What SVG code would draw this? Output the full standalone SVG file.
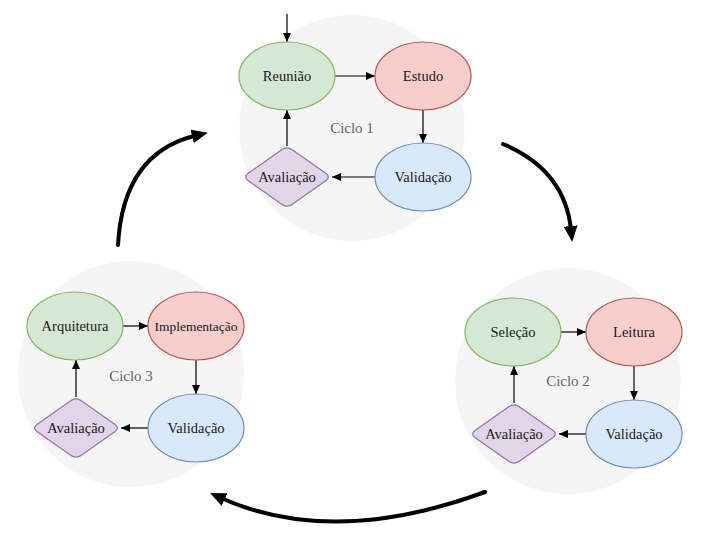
<svg xmlns="http://www.w3.org/2000/svg" xmlns:xlink="http://www.w3.org/1999/xlink" width="704" height="554" viewBox="0 0 704 554">
<style>
.bg{fill:#f5f5f5;stroke:none}
.g{fill:#d5e8d4;stroke:#82b366;stroke-width:1.2}
.r{fill:#f8cecc;stroke:#b85450;stroke-width:1.2}
.b{fill:#dae8fc;stroke:#6c8ebf;stroke-width:1.2}
.p{fill:#e1d5e7;stroke:#9673a6;stroke-width:1.2}
text{font-family:"Liberation Serif","DejaVu Serif",serif;text-anchor:middle;dominant-baseline:central;fill:#1a1a1a}
.lbl{font-size:14.5px}
.cyc{font-size:15px;fill:#666}
.sm{fill:none;stroke:#000;stroke-width:1.2;marker-end:url(#arr)}
.big{fill:none;stroke:#000;stroke-width:4;stroke-linecap:round;marker-end:url(#bigarr)}
</style>
<defs>
<marker id="arr" markerUnits="userSpaceOnUse" markerWidth="9" markerHeight="8" refX="9" refY="4" orient="auto"><path d="M0,0 L9,4 L0,8 Z" fill="#000"/></marker>
<marker id="bigarr" markerUnits="userSpaceOnUse" markerWidth="18" markerHeight="14" refX="4" refY="7" orient="auto"><path d="M0,0 L16,7 L0,14 Z" fill="#000"/></marker>
<path id="diamond" d="M5.28,-27.28 L38.72,-3.72 Q44,0 38.72,3.72 L5.28,27.28 Q0,31 -5.28,27.28 L-38.72,3.72 Q-44,0 -38.72,-3.72 L-5.28,-27.28 Q0,-31 5.28,-27.28 Z"/>
</defs>
<g id="backgrounds">
<circle class="bg" cx="352" cy="128" r="113"/>
<circle class="bg" cx="568" cy="381" r="113"/>
<circle class="bg" cx="131" cy="374" r="113"/>
</g>
<g id="cycle-labels">
<text class="cyc" x="352" y="128">Ciclo 1</text>
<text class="cyc" x="568" y="381">Ciclo 2</text>
<text class="cyc" x="131" y="376">Ciclo 3</text>
</g>
<g id="connectors">
<path class="sm" d="M287,14 L287,42"/>
<path class="sm" d="M335,76 L375,76"/>
<path class="sm" d="M423,110 L423,143"/>
<path class="sm" d="M375,177 L332,177"/>
<path class="sm" d="M287,146 L287,110"/>
<path class="sm" d="M561,332 L586,332"/>
<path class="sm" d="M634,366 L634,400"/>
<path class="sm" d="M586,434 L559,434"/>
<path class="sm" d="M514,403 L514,366"/>
<path class="sm" d="M123,326 L148,326"/>
<path class="sm" d="M196,360 L196,394"/>
<path class="sm" d="M148,428 L121,428"/>
<path class="sm" d="M76,397 L76,360"/>
<path class="big" d="M118,245 Q123,153 196,135.5"/>
<path class="big" d="M503,144 Q565,170 571,230"/>
<path class="big" d="M485,492 Q333,548 221,498"/>
</g>
<g id="reuniao"><ellipse class="g" cx="287" cy="76" rx="48" ry="34"/><text class="lbl" x="287" y="76">Reunião</text></g>
<g id="estudo"><ellipse class="r" cx="423" cy="76" rx="48" ry="34"/><text class="lbl" x="423" y="76">Estudo</text></g>
<g id="validacao1"><ellipse class="b" cx="423" cy="177" rx="48" ry="34"/><text class="lbl" x="423" y="177">Validação</text></g>
<g id="avaliacao1"><use xlink:href="#diamond" class="p" transform="translate(287,177)"/><text class="lbl" x="287" y="177">Avaliação</text></g>
<g id="selecao"><ellipse class="g" cx="513" cy="332" rx="48" ry="34"/><text class="lbl" x="513" y="332">Seleção</text></g>
<g id="leitura"><ellipse class="r" cx="634" cy="332" rx="48" ry="34"/><text class="lbl" x="634" y="332">Leitura</text></g>
<g id="validacao2"><ellipse class="b" cx="634" cy="434" rx="48" ry="34"/><text class="lbl" x="634" y="434">Validação</text></g>
<g id="avaliacao2"><use xlink:href="#diamond" class="p" transform="translate(514,434)"/><text class="lbl" x="514" y="434">Avaliação</text></g>
<g id="arquitetura"><ellipse class="g" cx="75" cy="326" rx="48" ry="34"/><text class="lbl" x="75" y="326">Arquitetura</text></g>
<g id="implementacao"><ellipse class="r" cx="196" cy="326" rx="48" ry="34"/><text class="lbl" x="196" y="326" style="font-size:13.5px">Implementação</text></g>
<g id="validacao3"><ellipse class="b" cx="196" cy="428" rx="48" ry="34"/><text class="lbl" x="196" y="428">Validação</text></g>
<g id="avaliacao3"><use xlink:href="#diamond" class="p" transform="translate(76,428)"/><text class="lbl" x="76" y="428">Avaliação</text></g>
</svg>
